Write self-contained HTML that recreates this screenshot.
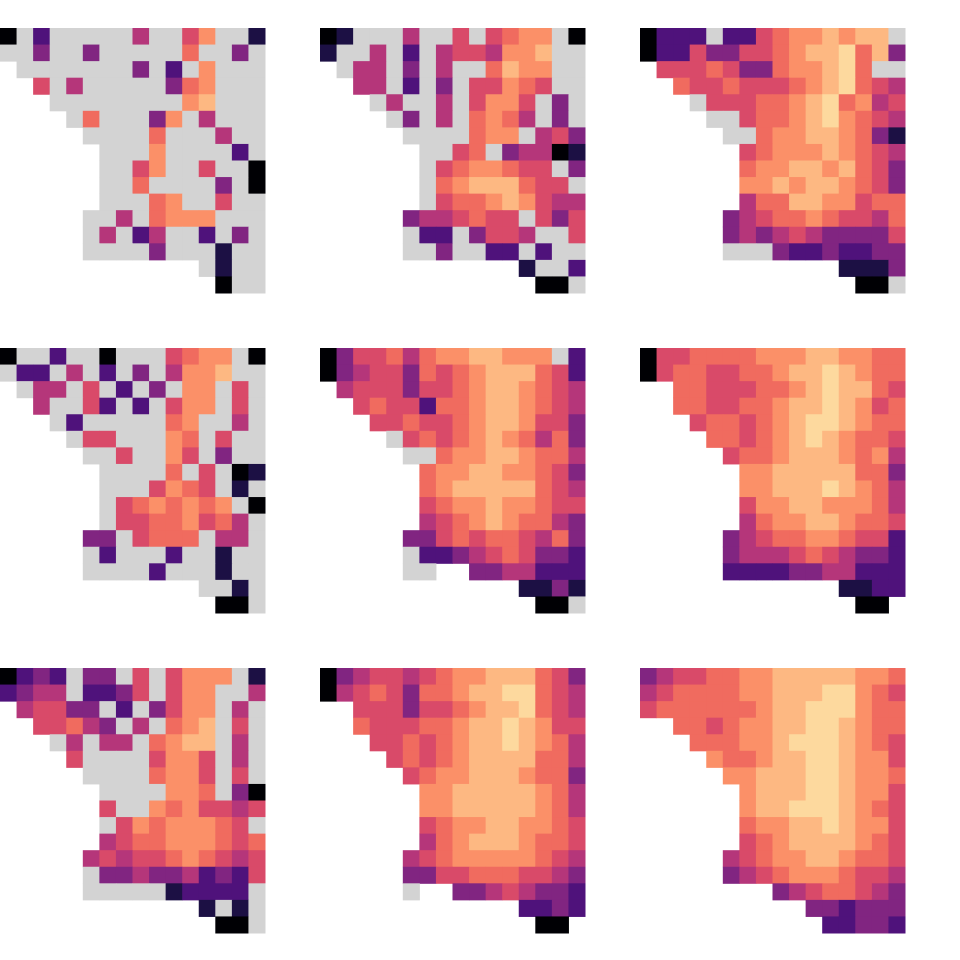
<!DOCTYPE html>
<html><head><meta charset="utf-8"><style>html,body{margin:0;padding:0;background:#fff;width:960px;height:960px;overflow:hidden}</style></head>
<body>
<svg id="chart" width="960" height="960" xmlns="http://www.w3.org/2000/svg"></svg>
<script>
// Per-panel grids: '.' = no data (white), 'g' = land without data (gray), '0'-'9' = magma value level
const panelA=["0g2ggggg4gg57gg1","gg3gg3ggggg6gg3g",".ggggggg3g2g7ggg","..5g4ggggg367ggg","...gggggggg78ggg","....g6ggg37g4ggg",".....gggg6ggg4gg","......ggg7gggg2g","......gg57gg5gg0","......gg6gggg3g0","......ggg67gg5gg",".....gg4g6777ggg",".....g4g24gg2g3g",".....gggg3ggg1gg","............g1gg",".............0gg"];
const panelB=["01ggg4gg5g5677g0","1gg4g2g4554778gg",".g44g3g4gg6877gg","..44g2g3g55765gg","...g4gg4g5775g3g","....g3g4g6764g3g",".....gggg677g453","......gg56g34401","......g5677655g3","......g67888655g","......g566787544",".....3445655g535",".....g22g3554gg5",".....gg3gg22g2gg","............1gg2",".............00g"];
const panelC=["0222g2256778788g","0225335567889683",".5556533677896gg","..65565556789654","...g555667896745","....gg5667897654",".....gg677887631","......5677787654","......6778878653","......7787887653","......4668877566",".....34566765546",".....34345433335",".....ggg32232233","............1113",".............00g"];
const panelD=["0gg2gg0ggg5677g0","g22g4g2g3g4778gg",".g44g5g2g3g77g5g","..4gg52g2g577g5g","...g2ggggg67gg4g","....g55ggg76g5gg",".....gg5gg75g3gg","......gggg6g5g01","......ggg5765g1g","......g5676767g0","......g55667564g",".....33g5666g44g",".....g2ggg2gg1gg",".....gggg2ggg1gg","............gg1g",".............00g"];
const panelE=["03556467788777g2","0345536567888652",".455535567887654","..56552667887654","...5565567887553","....g56567876463",".....gg677887664","......6778877653","......6788888654","......5677877655","......4567876643",".....33565665463",".....g2234565332",".....gg..3344222","............1131",".............00g"];
const panelF=["0556666777887766","0566556678898766","..66555667898865","..66556678898756","...5665678998766","....665678987665",".....56678887674","......7788888663","......7788898764","......5778877764","......4677887665",".....34566776552",".....34445654332",".....22223344222","............1122",".............00."];
const panelG=["0232g33g5g5777g1","2344g2235g577gg4",".45533g2g3577g4g","..55643g4g678g5g","...g4g44g6788g4g","....5gggg5775g4g",".....gggg6775g5g","......gggg776g30","......5gg7675545","......g57677765g","......4566777656",".....45455676545",".....g3343342325",".....ggggg12222g","............1g1g",".............00g"];
const panelH=["0345545677888653","0456536678899654","..55535567889654","..65556678898755","...5565678898764","....565678888664",".....56778887663","......7788888764","......7788888764","......5677887765","......4678887665",".....45677777654",".....33556665543",".....g..33454332","............2232",".............00."];
const panelI=["3455667788888776","4566667788899765","5666666788999766","..66567788998766","...6667789998765","....766788998775",".....77888998776","......7888998775","......7889998765","......6778898775","......5678888765",".....45677887665",".....34567776554","........34566543","..........332333","...........22332"];
const panels=[panelA,panelB,panelC,panelD,panelE,panelF,panelG,panelH,panelI];
const magma=["#000004","#1c1044","#4f127b","#812581","#b5367a","#d94a69","#f06b5f","#fb9068","#fdb882","#fdd99e"];
const svg=document.getElementById('chart');
const NS="http://www.w3.org/2000/svg";
const colX=c=>c*320, rowY=r=>28+r*320, size=265, n=16, cs=size/n;
panels.forEach((grid,pi)=>{
  const g=document.createElementNS(NS,'g');
  
  
  const ox=colX(pi%3), oy=rowY(Math.floor(pi/3));
  grid.forEach((row,ri)=>{
    for(let ci=0;ci<row.length;ci++){
      const ch=row[ci]; if(ch==='.')continue;
      const r=document.createElementNS(NS,'rect');
      r.setAttribute('x',(ox+ci*cs).toFixed(2));
      r.setAttribute('y',(oy+ri*cs).toFixed(2));
      r.setAttribute('width',(cs+0.5).toFixed(2));
      r.setAttribute('height',(cs+0.5).toFixed(2));
      r.setAttribute('fill',ch==='g'?'#d3d3d3':magma[+ch]);
      
      
      g.appendChild(r);
    }
  });
  svg.appendChild(g);
});
</script>
</body></html>
